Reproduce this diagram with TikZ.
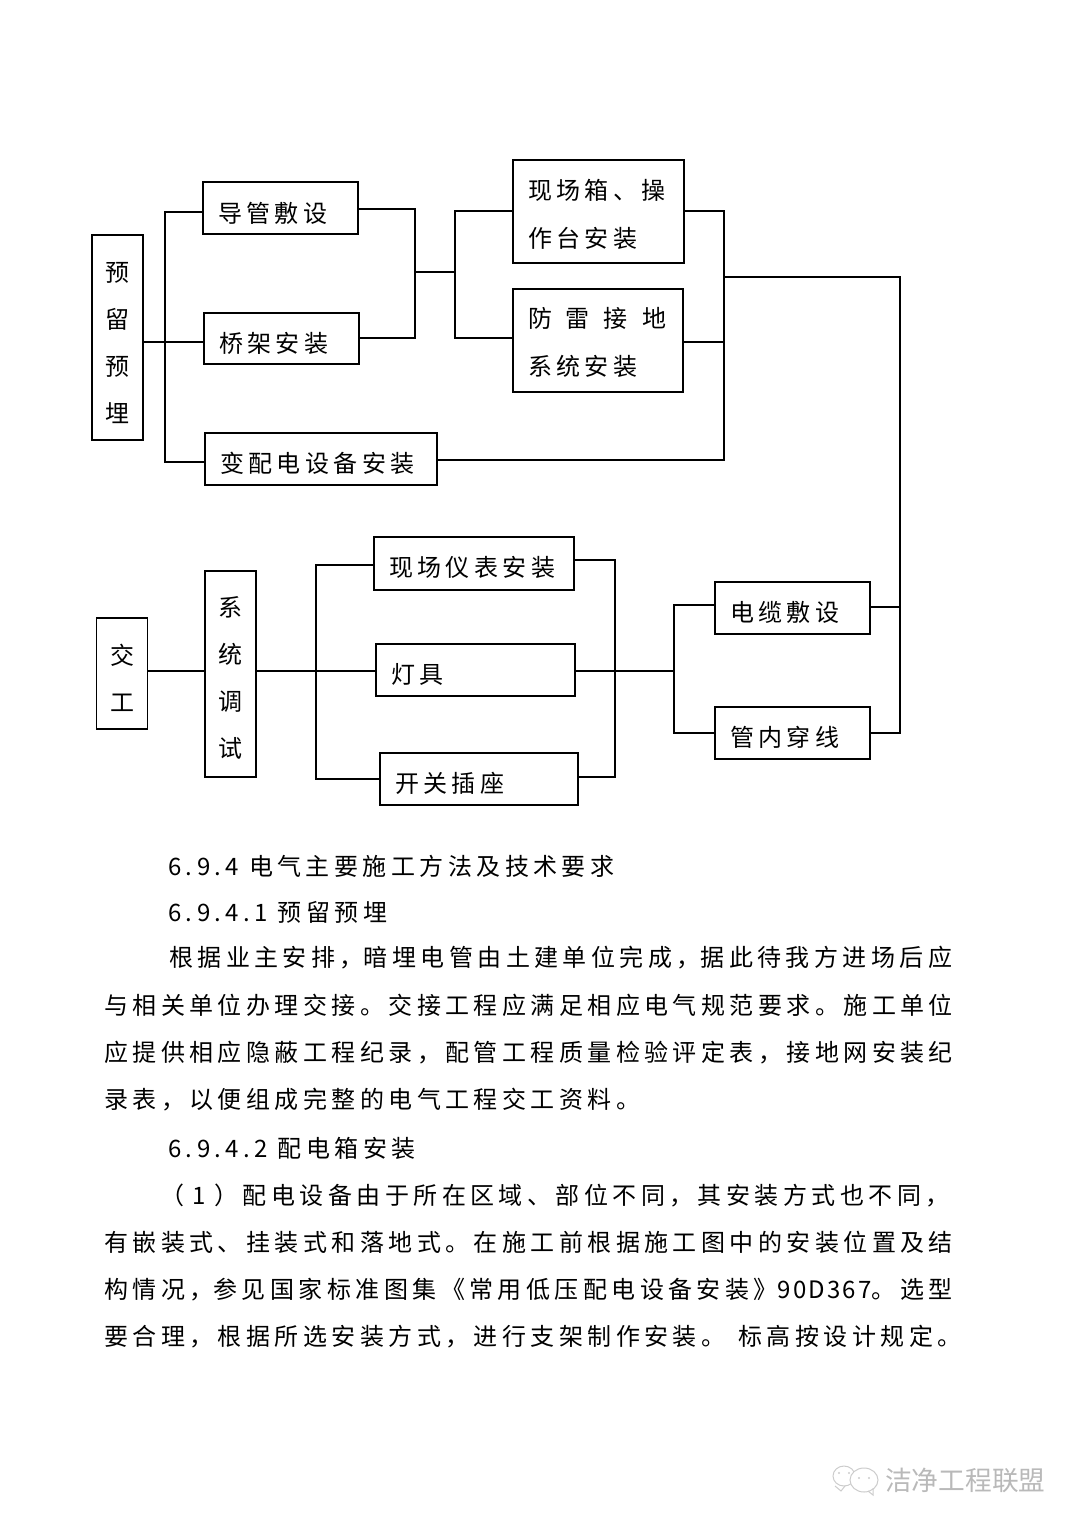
\documentclass[tikz,border=0pt]{standalone}
\usepackage{fontspec}
\setmainfont{Noto Sans CJK SC}[LetterSpace=18.5]
\newfontfamily\markfont{Noto Sans CJK SC}
\newfontfamily\digitfont{Noto Sans CJK SC}[LetterSpace=9]
\newcommand\liftline[1]{\rule{0pt}{#1}}
\tikzset{
	flowbox/.style={draw,line width=1.8pt,inner xsep=15pt,inner ysep=0pt,align=left,font=\fontsize{24}{47.5}\selectfont},
	upbox/.style={draw,line width=1.8pt,inner xsep=13pt,inner ysep=0pt,text width=25pt,align=center,font=\fontsize{24}{47}\selectfont},
	link/.style={line width=1.6pt,line cap=rect},
	buslink/.style={line width=2.8pt,line cap=rect},
	bodyline/.style={anchor=west,inner sep=0pt,font=\fontsize{24}{28}\selectfont},
	marktext/.style={anchor=west,inner sep=0pt,text=gray!55,font=\markfont\fontsize{26.7}{30}\selectfont}
}
\begin{document}
\begin{tikzpicture}[x=1pt,y=-1pt]
	\useasboundingbox (0,0) rectangle (1080,1527);
	% Upper boxes
	\node[upbox,minimum height=205pt] (yuliu) at (117.5,337.5) {\liftline{30pt}预\\留\\预\\埋};
	\node[flowbox,text width=125pt,minimum height=52pt] (daoguan) at (280.5,208) {\liftline{31pt}导管敷设};
	\node[flowbox,text width=125pt,minimum height=51pt] (qiaojia) at (281.5,338.5) {\liftline{31pt}桥架安装};
	\node[flowbox,text width=202pt,minimum height=52pt] (biandian) at (321,459) {\liftline{30pt}变配电设备安装};
	\node[flowbox,text width=141pt,minimum height=103pt] (xiangtai) at (598.5,211.5) {\liftline{26pt}现场箱、操\\作台安装};
	\node[flowbox,text width=140pt,minimum height=103pt] (fanglei) at (598,340.5) {\liftline{24pt}防\hspace{14pt}雷\hspace{14pt}接\hspace{14pt}地\\系统安装};
	% Lower boxes
	\node[upbox,minimum height=111pt] (jiaogong) at (122,673.5) {\liftline{30pt}交\\工};
	\node[upbox,minimum height=206pt] (tiaoshi) at (230.5,674) {\liftline{28pt}系\\统\\调\\试};
	\node[flowbox,text width=170pt,minimum height=53pt] (yibiao) at (474,563.5) {\liftline{28pt}现场仪表安装};
	\node[flowbox,text width=169pt,minimum height=52pt] (dengju) at (475.5,670) {\liftline{28pt}灯具};
	\node[flowbox,text width=168pt,minimum height=52pt] (kaiguan) at (479,779) {\liftline{29pt}开关插座};
	\node[flowbox,text width=125pt,minimum height=52pt] (dianlan) at (792.5,608) {\liftline{29pt}电缆敷设};
	\node[flowbox,text width=125pt,minimum height=52pt] (chuanxian) at (792.5,733) {\liftline{29pt}管内穿线};
	% Bus corners
	\coordinate (la) at (165,212);
	\coordinate (lb) at (165,462);
	\coordinate (lc) at (165,342);
	\coordinate (ma) at (415,209);
	\coordinate (mb) at (415,338);
	\coordinate (mc) at (415,272);
	\coordinate (na) at (455,211);
	\coordinate (nb) at (455,338);
	\coordinate (ra) at (724,211);
	\coordinate (rb) at (724,460);
	\coordinate (rc) at (724,342);
	\coordinate (rd) at (724,277);
	\coordinate (sa) at (900,277);
	\coordinate (sb) at (900,733);
	\coordinate (sc) at (900,607);
	\coordinate (ta) at (316,565);
	\coordinate (tb) at (316,779);
	\coordinate (tc) at (316,671);
	\coordinate (ua) at (615,560);
	\coordinate (ub) at (615,777);
	\coordinate (uc) at (615,671);
	\coordinate (va) at (674,605);
	\coordinate (vb) at (674,733);
	\coordinate (vc) at (674,671);
	% Upper connectors
	\draw[buslink] (daoguan.west |- la) -- (la) -- (lb) -- (biandian.west |- lb);
	\draw[link] (yuliu.east |- lc) -- (qiaojia.west |- lc);
	\draw[link] (daoguan.east |- ma) -- (ma) -- (mb) -- (qiaojia.east |- mb);
	\draw[link] (mc) -- (mc -| na);
	\draw[link] (xiangtai.west |- na) -- (na) -- (nb) -- (fanglei.west |- nb);
	\draw[link] (xiangtai.east |- ra) -- (ra) -- (rb) -- (biandian.east |- rb);
	\draw[link] (fanglei.east |- rc) -- (rc);
	\draw[link] (rd) -- (sa) -- (sb) -- (chuanxian.east |- sb);
	\draw[link] (dianlan.east |- sc) -- (sc);
	% Lower connectors
	\draw[link] (jiaogong.east |- tc) -- (tiaoshi.west |- tc);
	\draw[link] (tiaoshi.east |- tc) -- (dengju.west |- tc);
	\draw[link] (yibiao.west |- ta) -- (ta) -- (tb) -- (kaiguan.west |- tb);
	\draw[link] (yibiao.east |- ua) -- (ua) -- (ub) -- (kaiguan.east |- ub);
	\draw[link] (dengju.east |- uc) -- (vc);
	\draw[link] (dianlan.west |- va) -- (va) -- (vb) -- (chuanxian.west |- vb);
	% Text below the chart
	\node[bodyline] (linea) at (168,866) {6.9.4 电气主要施工方法及技术要求};
	\node[bodyline] (lineb) at (168,912) {6.9.4.1 预留预埋};
	\node[bodyline] (linec) at (169,958) {根据业主安排，\hspace{0pt}暗埋电管由土建单位完成，\hspace{0pt}据此待我方进场后应};
	\node[bodyline] (lined) at (104,1005) {与相关单位办理交接。交接工程应满足相应电气规范要求。施工单位};
	\node[bodyline] (linee) at (104,1053) {应提供相应隐蔽工程纪录，配管工程质量检验评定表，接地网安装纪};
	\node[bodyline] (linef) at (104,1100) {录表，以便组成完整的电气工程交工资料。};
	\node[bodyline] (lineg) at (168,1148) {6.9.4.2 配电箱安装};
	\node[bodyline] (lineh) at (160,1195) {（\hspace{8.5pt}1\hspace{8.5pt}）配电设备由于所在区域、部位不同，其安装方式也不同，};
	\node[bodyline] (linei) at (104,1242) {有嵌装式、挂装式和落地式。在施工前根据施工图中的安装位置及结};
	\node[bodyline] (linej) at (104,1290) {构情况，\hspace{0pt}参见国家标准图集《常用低压配电设备安装》{\digitfont 90D367}。选型};
	\node[bodyline] (linek) at (104,1337) {要合理，根据所选安装方式，进行支架制作安装。\hspace{13pt}标高按设计规定。};
	% Corner mark
	\draw[gray!40,line width=1pt] (844,1476) ellipse [x radius=11,y radius=10];
	\draw[gray!40,line width=1pt,fill=white] (864,1480) ellipse [x radius=14,y radius=12];
	\draw[gray!40,line width=1pt] (835,1486) -- (841,1491) -- (845,1486);
	\draw[gray!40,line width=1pt] (868,1491) -- (873,1495) -- (873,1488);
	\fill[gray!40] (839,1473) circle [radius=1.2] (849,1473) circle [radius=1.2] (859,1478) circle [radius=1.2] (869,1478) circle [radius=1.2];
	\node[marktext] (marklabel) at (885,1480) {洁净工程联盟};
\end{tikzpicture}
\end{document}
